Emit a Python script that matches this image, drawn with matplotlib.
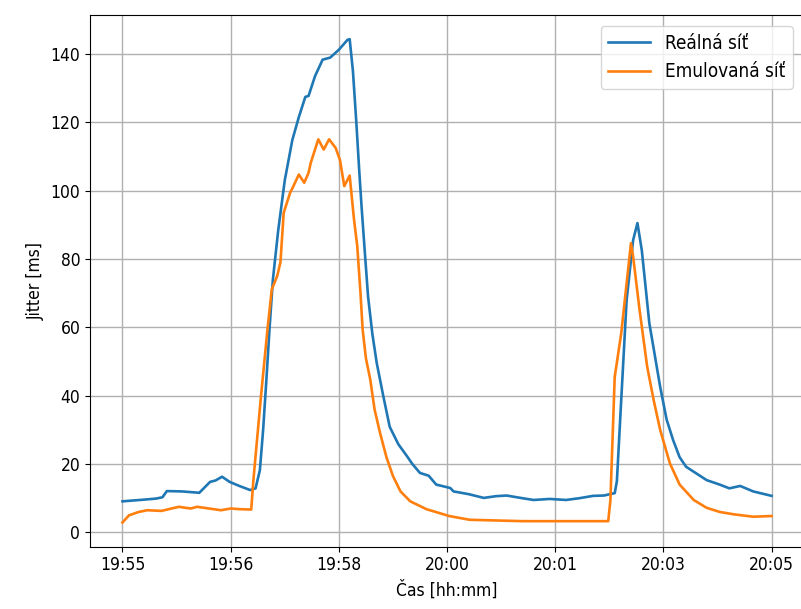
import numpy as np
import matplotlib
matplotlib.use("Agg")
import matplotlib.pyplot as plt
from matplotlib.ticker import FuncFormatter

# seconds since 19:55:00
real_t = [0, 20, 31, 37, 41, 55, 71, 76, 81, 86, 92, 99, 108, 118, 123, 127, 130, 133, 136, 139, 144,
          150, 157, 163, 169, 172, 178, 185, 192, 200, 208, 210, 213, 216, 219, 221, 224, 227,
          231, 235, 241, 247, 255, 263, 268, 275, 283, 290, 303, 306, 320, 334, 345, 355, 370,
          380, 395, 410, 422, 435, 445, 455, 457, 461, 466, 472, 476, 480, 487, 497, 503, 509,
          515, 521, 540, 552, 561, 571, 583, 600]
real_v = [9.1, 9.6, 9.9, 10.3, 12.1, 12.0, 11.6, 13.2, 14.8, 15.2, 16.3, 14.8, 13.6, 12.4, 12.9,
          18.2, 30.0, 44.6, 60.0, 73.9, 88.5, 103.0, 114.8, 121.5, 127.4, 127.7, 133.5, 138.3,
          138.9, 141.2, 144.1, 144.3, 135.0, 120.7, 105.0, 95.3, 82.0, 69.0, 58.0, 49.6, 40.0,
          30.9, 25.8, 22.3, 20.0, 17.4, 16.6, 14.0, 13.0, 12.0, 11.2, 10.1, 10.6, 10.8, 10.0,
          9.5, 9.8, 9.5, 10.0, 10.7, 10.8, 11.5, 15.0, 38.7, 68.0, 85.5, 90.5, 82.6, 61.2, 42.6,
          33.0, 27.0, 22.0, 19.2, 15.3, 14.0, 12.9, 13.6, 12.0, 10.7]

emu_t = [0, 6, 15, 23, 36, 52, 63, 69, 80, 91, 100, 109, 119, 121, 128, 134, 138, 143, 146,
         149, 155, 158, 163, 168, 172, 174, 181, 186, 191, 197, 201, 205, 210, 214, 217, 220,
         222, 225, 229, 233, 238, 244, 250, 257, 266, 281, 302, 321, 370, 410, 449, 451, 455,
         461, 470, 472, 478, 485, 491, 497, 506, 515, 528, 540, 552, 565, 583, 600]
emu_v = [2.9, 5.0, 6.0, 6.5, 6.3, 7.5, 7.0, 7.5, 7.0, 6.5, 7.0, 6.8, 6.7, 15.3, 39.8, 59.3,
         71.1, 75.0, 79.0, 93.5, 99.4, 101.3, 104.7, 102.3, 105.2, 108.1, 115.0, 112.0, 115.0,
         112.5, 109.0, 101.3, 104.4, 91.6, 83.8, 70.0, 59.3, 51.0, 44.8, 36.0, 29.2, 22.0, 16.5,
         12.0, 9.1, 6.8, 4.8, 3.7, 3.3, 3.3, 3.3, 9.4, 45.5, 58.2, 84.6, 80.7, 65.0, 48.5, 38.7,
         30.0, 20.2, 14.0, 9.5, 7.2, 6.0, 5.3, 4.6, 4.8]

start_h, start_m = 19, 55


def fmt_time(x, pos):
    total = start_h * 3600 + start_m * 60 + int(x)
    return "%02d:%02d" % (total // 3600, (total % 3600) // 60)


plt.rcParams['font.family'] = ['DejaVu Sans']
plt.rcParams['font.stretch'] = 'condensed'
plt.rcParams['font.size'] = 12.5

fig = plt.figure(figsize=(8.01, 6.09), dpi=100)
ax = fig.add_axes([0.1124, 0.1023, 0.8914, 0.8731])
ax.plot(real_t, real_v, lw=1.9, label="Reálná síť")
ax.plot(emu_t, emu_v, lw=1.9, label="Emulovaná síť")
ax.xaxis.set_major_formatter(FuncFormatter(fmt_time))
ax.grid(True, lw=1.0, color="#b0b0b0")
ax.set_xlabel("Čas [hh:mm]")
ax.set_ylabel("Jitter [ms]")
ax.legend(loc="upper right", fontsize=13.6, handlelength=2.2, borderaxespad=0.6)
fig.savefig("out.png", dpi=100)
